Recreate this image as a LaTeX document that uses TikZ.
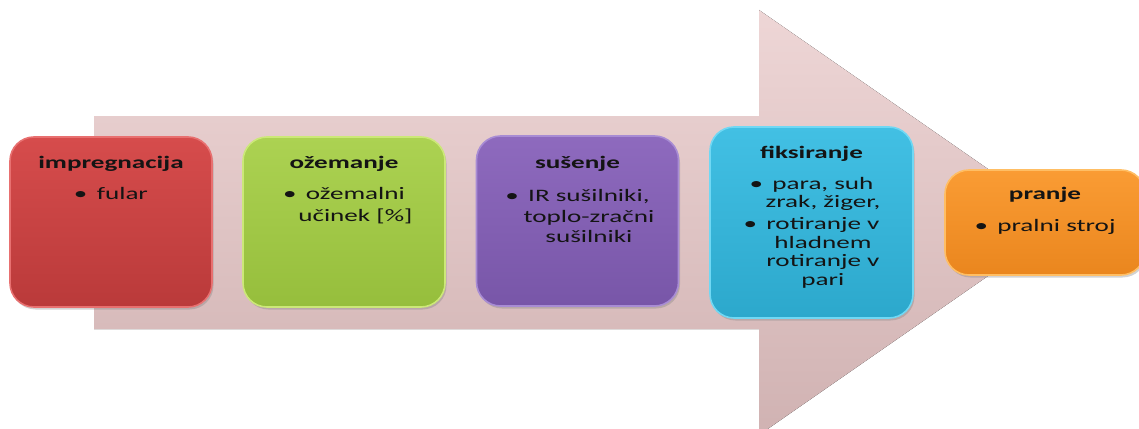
\documentclass[tikz,border=0pt]{standalone}
\usepackage{fontspec}
\setmainfont{Carlito}
\usetikzlibrary{shadows}
\definecolor{arrowtop}{RGB}{238,214,214}
\definecolor{arrowbot}{RGB}{208,178,178}
\definecolor{txt}{RGB}{20,20,20}
\definecolor{redT}{RGB}{214,76,76}\definecolor{redB}{RGB}{186,58,58}\definecolor{redR}{RGB}{232,112,112}
\definecolor{grnT}{RGB}{172,210,82}\definecolor{grnB}{RGB}{150,190,60}\definecolor{grnR}{RGB}{204,232,120}
\definecolor{purT}{RGB}{142,106,190}\definecolor{purB}{RGB}{120,86,168}\definecolor{purR}{RGB}{168,140,212}
\definecolor{cyaT}{RGB}{66,192,228}\definecolor{cyaB}{RGB}{44,168,204}\definecolor{cyaR}{RGB}{112,216,244}
\definecolor{oraT}{RGB}{250,156,52}\definecolor{oraB}{RGB}{234,134,30}\definecolor{oraR}{RGB}{255,190,100}
\newcommand\bl{\textbullet\hspace{6pt}}
\newcommand\ind{\hphantom{\textbullet\hspace{6pt}}}
\tikzset{
  box/.style={rounded corners=24pt, line width=1.6pt, minimum width=202pt,
    drop shadow={opacity=0.35, shadow xshift=1.5pt, shadow yshift=-2.5pt}},
  hdr/.style={anchor=base, inner sep=0pt, text=txt, xscale=1.55,
    font=\fontsize{17.5}{19.5}\selectfont\bfseries},
  bdy/.style={anchor=base, inner sep=0pt, text=txt, xscale=1.55, align=center,
    font=\fontsize{17.5}{19.5}\selectfont},
}
\begin{document}
\begin{tikzpicture}[x=1pt,y=-1pt]
\useasboundingbox (0,0) rectangle (1139,428);
% big arrow
\fill[top color=arrowtop, bottom color=arrowbot]
  (94,116) -- (759,116) -- (759,10) -- (1065,222.5) -- (759,435) -- (759,329) -- (94,329) -- cycle;
% boxes
\node[box, top color=redT, bottom color=redB, draw=redR, minimum height=170pt] (b1) at (111,222) {};
\node[box, top color=grnT, bottom color=grnB, draw=grnR, minimum height=170pt] (b2) at (344,222) {};
\node[box, top color=purT, bottom color=purB, draw=purR, minimum height=170pt] (b3) at (577.5,221) {};
\node[box, top color=cyaT, bottom color=cyaB, draw=cyaR, minimum height=191pt, minimum width=203pt] (b4) at (811.5,222.5) {};
\node[box, top color=oraT, bottom color=oraB, draw=oraR, minimum height=105pt, minimum width=200pt] (b5) at (1045,222.5) {};
% headers
\node[hdr] (h1) at (111,168) {impregnacija};
\node[hdr] (h2) at (344,168) {ožemanje};
\node[hdr] (h3) at (577.5,168) {sušenje};
\node[hdr] (h4) at (811.5,158) {fiksiranje};
\node[hdr] (h5) at (1045,199) {pranje};
% bodies (anchor = baseline of last line)
\node[bdy] (t1) at (111,199) {\bl fular};
\node[bdy] (t2) at (344,221) {\bl ožemalni\\[2.5pt]\ind učinek [\%]};
\node[bdy] (t3) at (577.5,242.5) {\bl IR sušilniki,\\[1pt]\ind toplo-zračni\\[1pt]\ind sušilniki};
\node[bdy] (t4) at (811.5,285) {\bl para, suh\\[-1pt]\ind zrak, žiger,\\[2.5pt]\bl rotiranje v\\[-1pt]\ind hladnem\\[-1pt]\ind rotiranje v\\[-1pt]\ind pari};
\node[bdy] (t5) at (1045,231) {\bl pralni stroj};
\end{tikzpicture}
\end{document}
